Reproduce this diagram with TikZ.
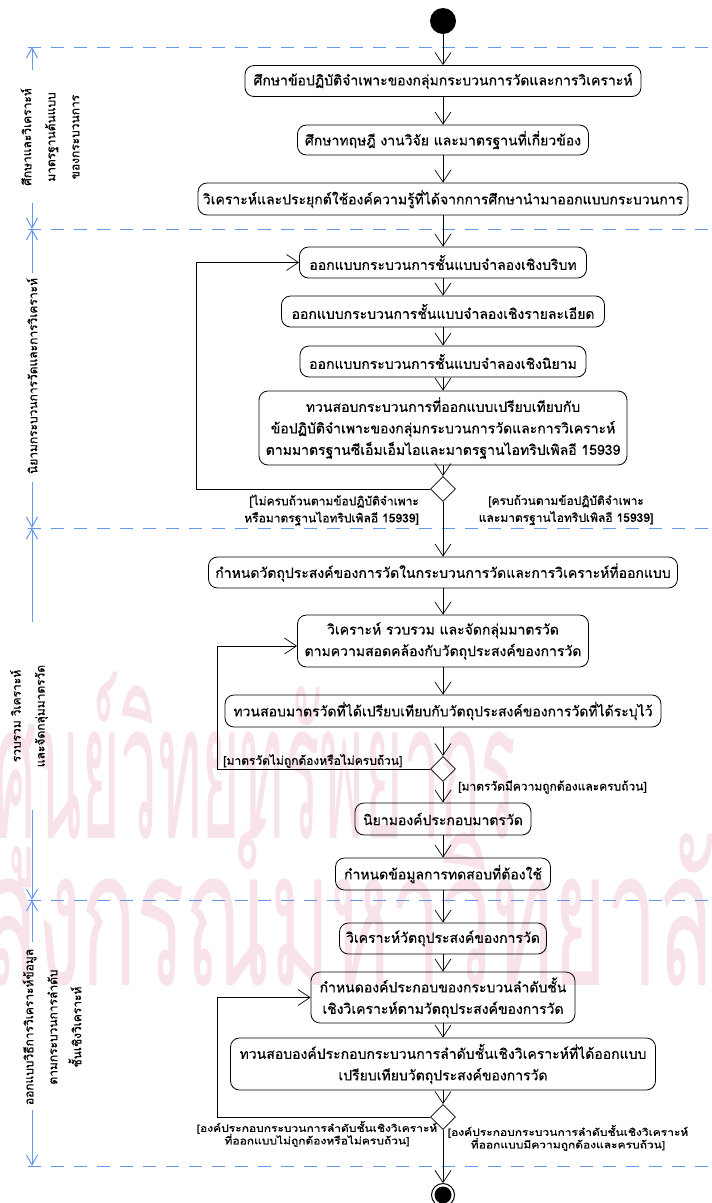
\documentclass[tikz,border=0pt]{standalone}
\usepackage{fontspec}
\setmainfont[Script=Thai]{Loma}
\newfontfamily\wmfont[Script=Thai]{Loma}
\newfontfamily\thaibold[Script=Thai,FakeBold=0.6]{Loma}
\usetikzlibrary{arrows.meta,shapes.geometric}
\definecolor{lanec}{RGB}{100,150,235}
\definecolor{wmpink}{RGB}{247,227,233}
\begin{document}
\begin{tikzpicture}[x=1pt,y=-1pt,
  box/.style={draw, rounded corners=9pt, line width=0.8pt, align=center, inner sep=1pt,
    font=\thaibold\fontsize{14}{21.5}\selectfont},
  flow/.style={-{Straight Barb[length=12pt,width=16pt]}, line width=0.7pt},
  loopline/.style={-{Straight Barb[length=12pt,width=16pt]}, line width=0.7pt},
  guard/.style={font=\thaibold\fontsize{12}{17}\selectfont, align=center, inner sep=0pt},
  smallguard/.style={font=\thaibold\fontsize{10}{12.5}\selectfont, align=center, inner sep=0pt, xscale=1.2},
  lanediv/.style={lanec, dash pattern=on 13pt off 10pt, line width=1pt},
  lanearrow/.style={lanec, line width=1pt, -{Straight Barb[length=10pt,width=11pt]}},
  lanelabel/.style={rotate=90, align=center, inner sep=0pt, font=\thaibold\fontsize{12}{24}\selectfont},
  decision/.style={diamond, draw, line width=0.8pt, minimum width=25pt, minimum height=25pt, inner sep=0pt},
  wm/.style={text=wmpink, inner sep=0pt, font=\wmfont\fontsize{190}{190}\selectfont}
]
\useasboundingbox (0,0) rectangle (712,1203);

% watermark
\node[wm, anchor=base west, xscale=0.35] (wm1) at (-6,838) {ศูนย์วิทยทรัพยากร};
\node[wm, anchor=base west, xscale=0.48] (wm2) at (-186,985) {จุฬาลงกรณ์มหาวิทยาลัย};

% lane dividers
\coordinate (d0l) at (28,47);   \coordinate (d0r) at (712,47);
\coordinate (d1l) at (28,229);  \coordinate (d1r) at (712,229);
\coordinate (d2l) at (28,528);  \coordinate (d2r) at (712,528);
\coordinate (d3l) at (28,900);  \coordinate (d3r) at (712,900);
\coordinate (d4l) at (28,1166); \coordinate (d4r) at (712,1166);
\foreach \a/\b in {d0l/d0r,d1l/d1r,d2l/d2r,d3l/d3r,d4l/d4r} \draw[lanediv] (\a) -- (\b);

% lane extents
\coordinate (e1t) at (32,47);   \coordinate (e1a) at (32,70);   \coordinate (e1b) at (32,203);  \coordinate (e1d) at (32,229);
\coordinate (e2t) at (32,229);  \coordinate (e2a) at (32,273);  \coordinate (e2b) at (32,482);  \coordinate (e2d) at (32,528);
\coordinate (e3t) at (32,528);  \coordinate (e3a) at (32,622);  \coordinate (e3b) at (32,810);  \coordinate (e3d) at (32,900);
\coordinate (e4t) at (32,900);  \coordinate (e4a) at (32,942);  \coordinate (e4b) at (32,1110); \coordinate (e4d) at (32,1166);
\foreach \i in {1,2,3,4} {
  \draw[lanearrow] (e\i a) -- (e\i t);
  \draw[lanearrow] (e\i b) -- (e\i d);
}

% lane labels
\node[lanelabel] (lab1) at (50,137) {ศึกษาและวิเคราะห์\\มาตรฐานต้นแบบ\\ของกระบวนการ};
\node[lanelabel] (lab2) at (32,376) {นิยามกระบวนการวัดและการวิเคราะห์};
\node[lanelabel] (lab3) at (29,716) {รวบรวม วิเคราะห์\\และจัดกลุ่มมาตรวัด};
\node[lanelabel] (lab4) at (52,1027) {ออกแบบวิธีการวิเคราะห์ข้อมูล\\ตามกระบวนการลำดับ\\ชั้นเชิงวิเคราะห์};

% start / end
\node[circle, fill=black, minimum size=26pt, inner sep=0pt] (start) at (443,21) {};
\node[circle, draw, line width=1pt, minimum size=23pt, inner sep=0pt] (end) at (443,1195) {};
\fill (end.center) circle (8.5pt);

% lane 1
\node[box, minimum width=396pt, minimum height=31pt] (b1) at (443,81) {ศึกษาข้อปฏิบัติจำเพาะของกลุ่มกระบวนการวัดและการวิเคราะห์};
\node[box, minimum width=291pt, minimum height=30pt] (b2) at (443,140) {ศึกษาทฤษฎี งานวิจัย และมาตรฐานที่เกี่ยวข้อง};
\node[box, minimum width=490pt, minimum height=32pt] (b3) at (443,199) {วิเคราะห์และประยุกต์ใช้องค์ความรู้ที่ได้จากการศึกษานำมาออกแบบกระบวนการ};

% lane 2
\node[box, minimum width=287pt, minimum height=31pt] (b4) at (443,262.5) {ออกแบบกระบวนการชั้นแบบจำลองเชิงบริบท};
\node[box, minimum width=323pt, minimum height=31pt] (b5) at (443,311.5) {ออกแบบกระบวนการชั้นแบบจำลองเชิงรายละเอียด};
\node[box, minimum width=286pt, minimum height=31pt] (b6) at (443,361.5) {ออกแบบกระบวนการชั้นแบบจำลองเชิงนิยาม};
\node[box, minimum width=368pt, minimum height=74pt] (b7) at (443,428) {ทวนสอบกระบวนการที่ออกแบบเปรียบเทียบกับ\\ข้อปฏิบัติจำเพาะของกลุ่มกระบวนการวัดและการวิเคราะห์\\ตามมาตรฐานซีเอ็มเอ็มไอและมาตรฐานไอทริปเพิลอี 15939};
\node[decision] (dd1) at (443,489) {};
\node[guard, anchor=east, align=right] (g1a) at (419,510) {[ไม่ครบถ้วนตามข้อปฏิบัติจำเพาะ\\หรือมาตรฐานไอทริปเพิลอี 15939]};
\node[guard] (g1b) at (566,510) {[ครบถ้วนตามข้อปฏิบัติจำเพาะ\\และมาตรฐานไอทริปเพิลอี 15939]};

% lane 3
\node[box, minimum width=469pt, minimum height=31pt] (b8) at (443,572.5) {กำหนดวัตถุประสงค์ของการวัดในกระบวนการวัดและการวิเคราะห์ที่ออกแบบ};
\node[box, minimum width=291pt, minimum height=52pt] (b9) at (443,641) {วิเคราะห์ รวบรวม และจัดกลุ่มมาตรวัด\\ตามความสอดคล้องกับวัตถุประสงค์ของการวัด};
\node[box, minimum width=436pt, minimum height=32pt] (b10) at (443,711) {ทวนสอบมาตรวัดที่ได้เปรียบเทียบกับวัตถุประสงค์ของการวัดที่ได้ระบุไว้};
\node[decision] (dd2) at (443,769) {};
\node[guard, anchor=west] (g2a) at (223,761) {[มาตรวัดไม่ถูกต้องหรือไม่ครบถ้วน]};
\node[guard, anchor=west] (g2b) at (458,787) {[มาตรวัดมีความถูกต้องและครบถ้วน]};
\node[box, minimum width=176pt, minimum height=32pt] (b11) at (443,819) {นิยามองค์ประกอบมาตรวัด};
\node[box, minimum width=215pt, minimum height=32pt] (b12) at (443,874) {กำหนดข้อมูลการทดสอบที่ต้องใช้};

% lane 4
\node[box, minimum width=207pt, minimum height=31pt] (b13) at (443,938.5) {วิเคราะห์วัตถุประสงค์ของการวัด};
\node[box, minimum width=264pt, minimum height=51pt] (b14) at (443,997.5) {กำหนดองค์ประกอบของกระบวนลำดับชั้น\\เชิงวิเคราะห์ตามวัตถุประสงค์ของการวัด};
\node[box, minimum width=425pt, minimum height=52pt] (b15) at (443,1064) {ทวนสอบองค์ประกอบกระบวนการลำดับชั้นเชิงวิเคราะห์ที่ได้ออกแบบ\\เปรียบเทียบวัตถุประสงค์ของการวัด};
\node[decision] (dd3) at (443,1117) {};
\node[smallguard] (g3a) at (317,1134) {[องค์ประกอบกระบวนการลำดับชั้นเชิงวิเคราะห์\\ที่ออกแบบไม่ถูกต้องหรือไม่ครบถ้วน]};
\node[smallguard] (g3b) at (568,1138) {[องค์ประกอบกระบวนการลำดับชั้นเชิงวิเคราะห์\\ที่ออกแบบมีความถูกต้องและครบถ้วน]};

% main flow
\foreach \a/\b in {start/b1,b1/b2,b2/b3,b3/b4,b4/b5,b5/b6,b6/b7,b7/dd1,dd1/b8,b8/b9,b9/b10,b10/dd2,dd2/b11,b11/b12,b12/b13,b13/b14,b14/b15,b15/dd3,dd3/end}
  \draw[flow] (\a) -- (\b);

% loops
\coordinate (k1) at (196,489);
\draw[loopline] (dd1.west) -- (k1) |- (b4.west);
\coordinate (k2) at (217,769);
\coordinate (k2e) at ([yshift=-5pt]b9.west);
\draw[loopline] (dd2.west) -- (k2) |- (k2e);
\coordinate (k3) at (217,1117);
\draw[loopline] (dd3.west) -- (k3) |- (b14.west);
\end{tikzpicture}
\end{document}
